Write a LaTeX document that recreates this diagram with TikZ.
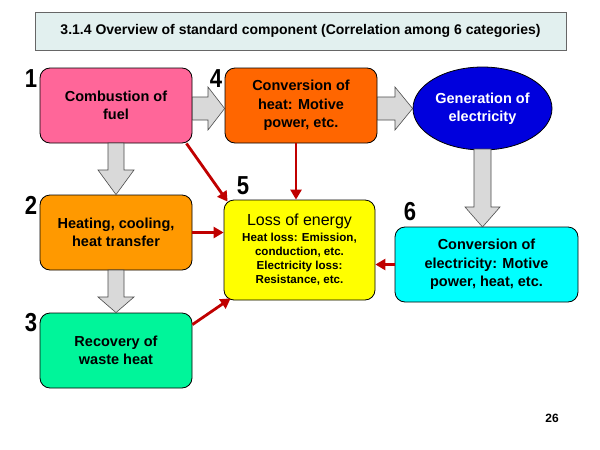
\documentclass[tikz,border=0pt]{standalone}
\usepackage{fontspec}
\setmainfont{Liberation Sans}
\usetikzlibrary{shapes.geometric,arrows.meta,calc}
\definecolor{pinkc}{HTML}{FF6699}
\definecolor{orangedk}{HTML}{FF6600}
\definecolor{orangelt}{HTML}{FF9900}
\definecolor{greenc}{HTML}{00F59A}
\definecolor{bluec}{HTML}{0000DD}
\definecolor{cyanc}{HTML}{00FFFF}
\definecolor{yellowc}{HTML}{FFFF00}
\definecolor{titlebg}{HTML}{E2F0EF}
\definecolor{redc}{HTML}{C00000}
\definecolor{grayarrow}{HTML}{D9D9D9}
\tikzset{
  box/.style={draw=black, line width=0.8pt, rounded corners=10pt, inner sep=0pt, align=center,
    font=\fontsize{14.5}{18.3}\selectfont\bfseries},
  numlabel/.style={font=\fontsize{26}{26}\selectfont\bfseries, xscale=0.85, inner sep=0pt},
  lossarrow/.style={draw=redc, line width=2.8pt, -{Triangle[length=10pt,width=11pt]}},
  blockarrow/.style={fill=grayarrow, draw=black!70, line width=0.6pt},
}
\begin{document}
\begin{tikzpicture}[x=1pt,y=-1pt]
\useasboundingbox (0,0) rectangle (600,450);
\fill[white] (0,0) rectangle (600,450);

% title
\node[draw=black!60, line width=0.8pt, fill=titlebg, minimum width=531pt, minimum height=38pt,
  font=\fontsize{14}{16}\selectfont\bfseries, inner sep=0pt] (title) at (300.5,31)
  {3.1.4 Overview of standard component (Correlation among 6 categories)};

% boxes
\node[box, fill=pinkc, minimum width=152pt, minimum height=75pt] (b1) at (116,105.5) {Combustion of\\fuel};
\node[box, fill=orangedk, minimum width=152pt, minimum height=75pt] (b4) at (301,105.5) {Conversion of\\heat: Motive\\power, etc.};
\node[ellipse, draw=black, line width=0.8pt, fill=bluec, minimum width=139pt, minimum height=83pt, inner sep=0pt,
  align=center, text=white, font=\fontsize{14.5}{18.3}\selectfont\bfseries] (gen) at (482.5,108.5) {Generation of\\electricity};
\node[box, fill=orangelt, minimum width=152pt, minimum height=75pt] (b2) at (116,232.5) {Heating, cooling,\\heat transfer};
\node[box, fill=greenc, minimum width=152pt, minimum height=75pt] (b3) at (116,350.5) {Recovery of\\waste heat};
\node[box, fill=cyanc, minimum width=183pt, minimum height=75pt] (b6) at (486.5,264.5) {Conversion of\\electricity: Motive\\power, heat, etc.};
\node[box, fill=yellowc, minimum width=151pt, minimum height=100pt, font=\fontsize{11.6}{14.2}\selectfont\bfseries] (b5) at (299.5,250)
  {{\fontsize{16}{16}\selectfont\mdseries Loss of energy}\\[1pt]
   Heat loss: Emission,\\conduction, etc.\\Electricity loss:\\Resistance, etc.};

% number labels
\node[numlabel] (n1) at (31,79) {1};
\node[numlabel] (n4) at (216,79) {4};
\node[numlabel] (n2) at (31,205) {2};
\node[numlabel] (n3) at (31,323) {3};
\node[numlabel] (n5) at (243,186) {5};
\node[numlabel] (n6) at (410,212) {6};

% gray block arrows
\draw[blockarrow] (b1.east |- 0,97) -- (208,97) -- (208,87) -- (b4.west |- 0,108.5) -- (208,130) -- (208,120) -- (b1.east |- 0,120) -- cycle;
\draw[blockarrow] (b4.east |- 0,97) -- (395,97) -- (395,87) -- (gen.west) -- (395,130) -- (395,120) -- (b4.east |- 0,120) -- cycle;
\draw[blockarrow] (108,143) -- (108,170) -- (98,170) -- (b2.north) -- (134,170) -- (124,170) -- (124,143) -- cycle;
\draw[blockarrow] (108,270) -- (108,297) -- (98,297) -- (b3.north) -- (134,297) -- (124,297) -- (124,270) -- cycle;
\draw[blockarrow] (474,149) -- (474,207) -- (465,207) -- (482.5,227) -- (500,207) -- (491,207) -- (491,149) -- cycle;

% red loss arrows
\draw[lossarrow] ($(b1.south east)+(-6,0)$) -- ($(b5.north west)+(4,2)$);
\draw[lossarrow] (b4.south -| 296,0) -- (b5.north -| 296,0);
\draw[lossarrow] (b2.east) -- (b5.west |- b2.east);
\draw[lossarrow] ($(b3.north east)+(0,12)$) -- ($(b5.south west)+(7,-2)$);
\draw[lossarrow] (b6.west) -- (b5.east |- b6.west);

% page number
\node[font=\fontsize{12}{14}\selectfont\bfseries] (page) at (552,418) {26};
\end{tikzpicture}
\end{document}
